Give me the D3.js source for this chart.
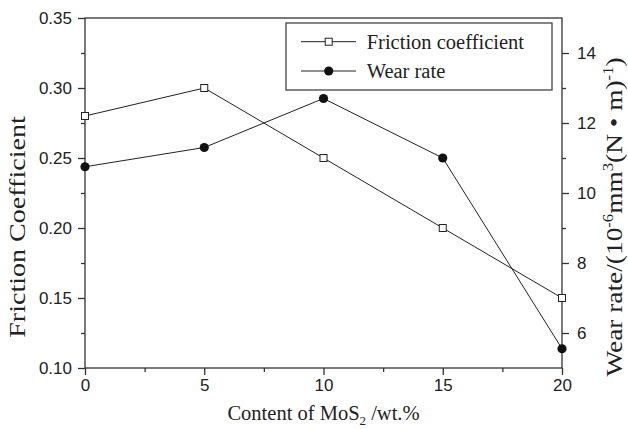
<!DOCTYPE html>
<html>
<head>
<meta charset="utf-8">
<script src="https://cdn.jsdelivr.net/npm/d3@7"></script>
<style>
  body { margin: 0; background: #fff; }
  svg { display: block; }
</style>
</head>
<body>
<div id="chart"></div>
<script>
// data
const contents = [0, 5, 10, 15, 20];
const frictionCoefficient = [0.28, 0.30, 0.25, 0.20, 0.15];
const wearRate = [10.75, 11.3, 12.7, 11.0, 5.55];

const xTicks = [0, 5, 10, 15, 20];
const xMinorTicks = [2.5, 7.5, 12.5, 17.5];
const leftTicks = [0.10, 0.15, 0.20, 0.25, 0.30, 0.35];
const leftMinorTicks = [0.125, 0.175, 0.225, 0.275, 0.325];
const rightTicks = [6, 8, 10, 12, 14];
const rightMinorTicks = [7, 9, 11, 13];
const legendItems = ["Friction coefficient", "Wear rate"];

const width = 628;
const height = 429;
const margin = { top: 18, right: 66, bottom: 61, left: 85 };
const ink = "#222";
const sans = "'Liberation Sans', Arial, sans-serif";
const serif = "'Liberation Serif', 'Times New Roman', serif";

const svg = d3.select("#chart").append("svg")
  .attr("width", width)
  .attr("height", height);

const x = d3.scaleLinear([0, 20], [margin.left, width - margin.right]);
const yLeft = d3.scaleLinear([0.10, 0.35], [height - margin.bottom, margin.top]);
const yRight = d3.scaleLinear([5, 15], [height - margin.bottom, margin.top]);

const styleAxis = g => {
  g.select(".domain").remove();
  g.selectAll(".tick line").attr("stroke", "#333").attr("stroke-width", 1.3);
  g.selectAll(".tick text")
    .attr("fill", ink)
    .style("font-family", sans)
    .style("font-size", "17px");
};

// x axis
svg.append("g")
  .attr("transform", `translate(0,${yLeft.range()[0]})`)
  .call(d3.axisBottom(x).tickValues(xTicks).tickSize(7).tickPadding(4).tickFormat(d3.format("d")))
  .call(styleAxis);
svg.append("g")
  .attr("transform", `translate(0,${yLeft.range()[0]})`)
  .call(d3.axisBottom(x).tickValues(xMinorTicks).tickSize(4).tickFormat(""))
  .call(styleAxis);

// left axis
svg.append("g")
  .attr("transform", `translate(${x(0)},0)`)
  .call(d3.axisLeft(yLeft).tickValues(leftTicks).tickSize(7).tickPadding(6).tickFormat(d3.format(".2f")))
  .call(styleAxis);
svg.append("g")
  .attr("transform", `translate(${x(0)},0)`)
  .call(d3.axisLeft(yLeft).tickValues(leftMinorTicks).tickSize(4).tickFormat(""))
  .call(styleAxis);

// right axis
svg.append("g")
  .attr("transform", `translate(${x(20)},0)`)
  .call(d3.axisRight(yRight).tickValues(rightTicks).tickSize(7).tickPadding(8).tickFormat(d3.format("d")))
  .call(styleAxis);
svg.append("g")
  .attr("transform", `translate(${x(20)},0)`)
  .call(d3.axisRight(yRight).tickValues(rightMinorTicks).tickSize(4).tickFormat(""))
  .call(styleAxis);

// frame
svg.append("rect")
  .attr("x", x(0))
  .attr("y", yLeft(0.35))
  .attr("width", x(20) - x(0))
  .attr("height", yLeft(0.10) - yLeft(0.35))
  .attr("fill", "none")
  .attr("stroke", "#333")
  .attr("stroke-width", 1.3);

// lines
const frictionLine = d3.line().x((d, i) => x(contents[i])).y(d => yLeft(d));
const wearLine = d3.line().x((d, i) => x(contents[i])).y(d => yRight(d));

svg.append("path")
  .attr("d", frictionLine(frictionCoefficient))
  .attr("fill", "none")
  .attr("stroke", ink)
  .attr("stroke-width", 1);
svg.append("path")
  .attr("d", wearLine(wearRate))
  .attr("fill", "none")
  .attr("stroke", ink)
  .attr("stroke-width", 1);

const square = (sel, cx, cy) => sel.append("rect")
  .attr("x", cx - 3.5).attr("y", cy - 3.5)
  .attr("width", 7).attr("height", 7)
  .attr("fill", "#fff").attr("stroke", ink).attr("stroke-width", 1);
const dot = (sel, cx, cy) => sel.append("circle")
  .attr("cx", cx).attr("cy", cy).attr("r", 4.6)
  .attr("fill", "#111");

frictionCoefficient.forEach((d, i) => square(svg, x(contents[i]), yLeft(d)));
wearRate.forEach((d, i) => dot(svg, x(contents[i]), yRight(d)));

// legend
const legend = svg.append("g");
legend.append("rect")
  .attr("x", 286).attr("y", 23)
  .attr("width", 266).attr("height", 67)
  .attr("fill", "#fff")
  .attr("stroke", "#444")
  .attr("stroke-width", 1.3);
legendItems.forEach((name, i) => {
  let cy = 41.7 + i * 29.3;
  legend.append("line")
    .attr("x1", 301).attr("x2", 356)
    .attr("y1", cy).attr("y2", cy)
    .attr("stroke", ink).attr("stroke-width", 1);
  if (i === 0) square(legend, 328.7, cy); else dot(legend, 328.7, cy);
  legend.append("text")
    .attr("x", 366.7).attr("y", cy)
    .attr("dy", "0.36em")
    .attr("fill", ink)
    .style("font-family", serif)
    .style("font-size", "20.5px")
    .text(name);
});

// axis titles
const xTitle = svg.append("text")
  .attr("x", (x(0) + x(20)) / 2)
  .attr("y", 420)
  .attr("text-anchor", "middle")
  .attr("fill", ink)
  .style("font-family", serif)
  .style("font-size", "20.5px");
xTitle.append("tspan").text("Content of MoS");
xTitle.append("tspan").attr("dy", 5).style("font-size", "13px").text("2");
xTitle.append("tspan").attr("dy", -5).text(" /wt.%");

svg.append("text")
  .attr("transform", "translate(25,227) rotate(-90) scale(1.22,1)")
  .attr("text-anchor", "middle")
  .attr("fill", ink)
  .style("font-family", serif)
  .style("font-size", "23px")
  .text("Friction Coefficient");

const rTitle = svg.append("text")
  .attr("transform", "translate(622,217) rotate(-90) scale(1.19,1)")
  .attr("text-anchor", "middle")
  .attr("fill", ink)
  .style("font-family", serif)
  .style("font-size", "23px");
rTitle.append("tspan").text("Wear rate/(10");
rTitle.append("tspan").attr("dy", -9).style("font-size", "14px").text("-6");
rTitle.append("tspan").attr("dy", 9).text("mm");
rTitle.append("tspan").attr("dy", -9).style("font-size", "14px").text("3");
rTitle.append("tspan").attr("dy", 9).text("(N \u2022  m)");
rTitle.append("tspan").attr("dy", -9).style("font-size", "14px").text("-1");
rTitle.append("tspan").attr("dy", 9).text(")");
</script>
</body>
</html>
